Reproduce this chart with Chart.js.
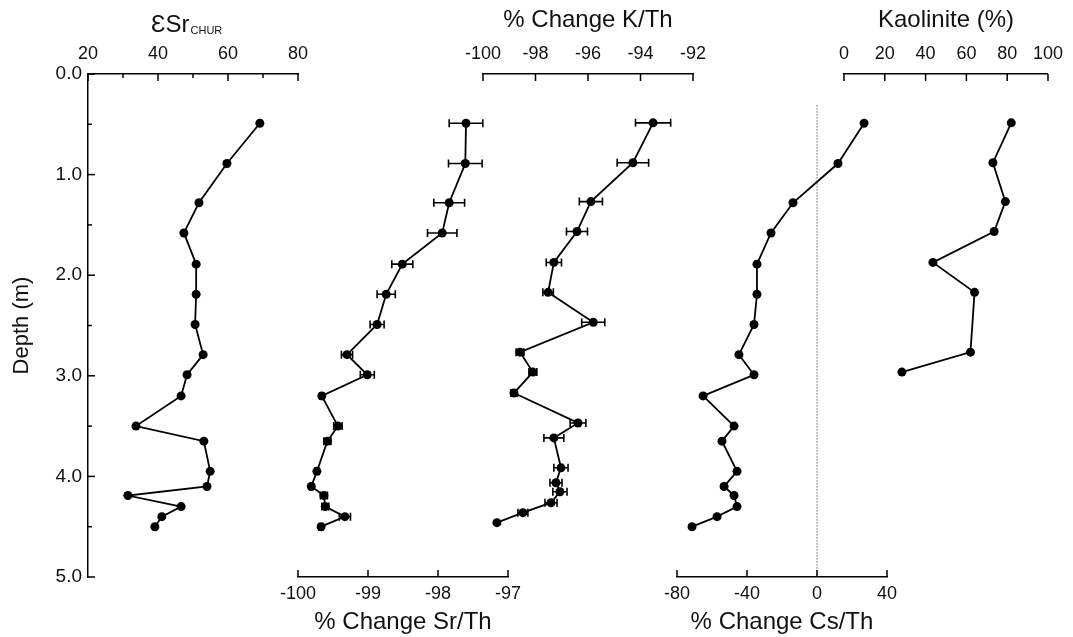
<!DOCTYPE html>
<html><head><meta charset="utf-8">
<script src="https://cdn.jsdelivr.net/npm/chart.js@4.4.1/dist/chart.umd.min.js"></script>
<style>
html,body{margin:0;padding:0;background:#fff;width:1073px;height:637px;overflow:hidden;position:relative;font-family:'Liberation Sans',Arial,sans-serif;}
canvas.p{position:absolute;top:0;}
#esrTitle{position:absolute;left:151px;top:12px;font-size:24px;line-height:24px;color:#111;white-space:nowrap;}
#esrTitle span{font-size:11px;position:relative;top:2px;margin-left:1px;}
</style></head><body>
<canvas id="c1" class="p" style="left:0px;width:328px;height:600px" width="328" height="600"></canvas>
<canvas id="c2" class="p" style="left:268px;width:270px;height:637px" width="270" height="637"></canvas>
<canvas id="c3" class="p" style="left:453px;width:270px;height:577px" width="270" height="577"></canvas>
<canvas id="c4" class="p" style="left:647px;width:270px;height:637px" width="270" height="637"></canvas>
<canvas id="c5" class="p" style="left:814px;width:258px;height:577px" width="258" height="577"></canvas>
<div id="esrTitle">ƐSr<span>CHUR</span></div>
<script>
// ---- data (depth in m) ----
const depth = [0.49, 0.89, 1.28, 1.58, 1.89, 2.19, 2.49, 2.79, 2.99, 3.2, 3.5, 3.65, 3.95, 4.1, 4.19, 4.3, 4.4, 4.5];
const eSrChur = [69.1, 59.7, 51.7, 47.4, 50.9, 50.9, 50.6, 52.9, 48.3, 46.6, 33.7, 53.1, 54.9, 54.0, 31.4, 46.6, 41.1, 39.1];
const srThChange = [-97.6, -97.61, -97.84, -97.94, -98.51, -98.74, -98.87, -99.3, -99.01, -99.66, -99.43, -99.58, -99.73, -99.81, -99.63, -99.61, -99.33, -99.67];
const srThErr = [0.24, 0.24, 0.22, 0.21, 0.15, 0.13, 0.1, 0.08, 0.1, 0.03, 0.06, 0.05, 0.03, 0.02, 0.05, 0.05, 0.08, 0.03];
const kThChange = [-93.52, -94.29, -95.89, -96.42, -97.3, -97.52, -95.8, -98.59, -98.1, -98.82, -96.38, -97.3, -97.03, -97.22, -97.07, -97.41, -98.48, -99.47];
const kThErr = [0.67, 0.6, 0.44, 0.4, 0.29, 0.2, 0.44, 0.15, 0.15, 0.12, 0.3, 0.38, 0.27, 0.23, 0.27, 0.23, 0.19, 0];
const csThChange = [26.9, 12.0, -13.7, -26.3, -34.3, -34.3, -36, -44.6, -36, -65.1, -47.4, -54.3, -45.7, -53.1, -47.4, -45.7, -57.1, -71.4];
const kaolDepth = [0.49, 0.89, 1.28, 1.58, 1.89, 2.19, 2.79, 2.99];
const kaolinite = [82, 73, 79.1, 73.6, 43.6, 64, 62, 28.4];
const zeroLineDepth = [0.31, 5];
const zeroLineX = [0, 0];
// axis ranges [min, max, step]
const depthAxis = [0, 5, 0.5];
const eSrAxis = [20, 80, 10];
const srThAxis = [-100, -97, 1];
const kThAxis = [-100, -92, 2];
const csThAxis = [-80, 40, 40];
const kaolAxis = [0, 100, 20];

const FONT = "'Liberation Sans', Arial, sans-serif";
Chart.defaults.font.family = FONT;
Chart.defaults.color = '#111';

function pts(xs, ys) { return xs.map((x, i) => ({x: x, y: ys[i]})); }

const inwardTicks = {
  id: 'inwardTicks',
  afterDraw(chart) {
    const ctx = chart.ctx, ca = chart.chartArea;
    ctx.save(); ctx.strokeStyle = '#000'; ctx.lineWidth = 1.5;
    Object.values(chart.scales).forEach(s => {
      if (!s.options.display) return;
      s.ticks.forEach(t => {
        const p = s.getPixelForValue(t.value);
        const len = (t.label === '' ? 4 : 7);
        ctx.beginPath();
        if (s.position === 'top') { ctx.moveTo(p, ca.top); ctx.lineTo(p, ca.top + len); }
        else if (s.position === 'bottom') { ctx.moveTo(p, ca.bottom); ctx.lineTo(p, ca.bottom - len); }
        else if (s.position === 'left') { ctx.moveTo(ca.left, p); ctx.lineTo(ca.left + len, p); }
        ctx.stroke();
      });
    });
    ctx.restore();
  }
};

function errorPlugin(values, errs, depths) {
  return {
    id: 'errorBars',
    beforeDatasetsDraw(chart) {
      const xs = chart.scales.x, ys = chart.scales.y, ctx = chart.ctx;
      ctx.save(); ctx.strokeStyle = '#000'; ctx.lineWidth = 1.6;
      values.forEach((v, i) => {
        const e = errs[i]; if (!e) return;
        const y = ys.getPixelForValue(depths[i]);
        const x1 = xs.getPixelForValue(v - e), x2 = xs.getPixelForValue(v + e);
        ctx.beginPath();
        ctx.moveTo(x1, y); ctx.lineTo(x2, y);
        ctx.moveTo(x1, y - 4); ctx.lineTo(x1, y + 4);
        ctx.moveTo(x2, y - 4); ctx.lineTo(x2, y + 4);
        ctx.stroke();
      });
      ctx.restore();
    }
  };
}

function series(xs, ys) {
  return {
    data: pts(xs, ys), showLine: true, borderColor: '#000', borderWidth: 1.8,
    pointRadius: 4.5, pointBackgroundColor: '#000', pointBorderWidth: 0, clip: false
  };
}

function makePanel(cfg) {
  const xPos = cfg.xPos;
  const axis = cfg.axis;
  const xScale = {
    type: 'linear', position: xPos, min: axis[0], max: axis[1],
    ticks: {
      stepSize: axis[2], autoSkip: false, maxRotation: 0, minRotation: 0,
      padding: xPos === 'top' ? 9 : 6, font: {size: 18},
      callback: cfg.xCallback || (v => String(v))
    },
    grid: {display: false, drawTicks: false},
    border: {display: true, color: '#000', width: 1.5},
    title: {display: !!cfg.xTitle, text: cfg.xTitle || '', font: {size: 24},
            padding: {top: 6, bottom: 0}},
    afterFit: s => { s.height = cfg.xHeight; }
  };
  const yScale = {
    type: 'linear', position: 'left', min: depthAxis[0], max: depthAxis[1], reverse: true,
    display: !!cfg.showY,
    ticks: {stepSize: depthAxis[2], autoSkip: false, padding: 6, font: {size: 19},
            callback: v => (Math.abs(v - Math.round(v)) < 1e-9 ? v.toFixed(1) : '')},
    grid: {display: false, drawTicks: false},
    border: {display: true, color: '#000', width: 1.5},
    title: {display: !!cfg.showY, text: 'Depth (m)', font: {size: 22}, padding: {top: 9, bottom: 0}}
  };
  if (cfg.showY) yScale.afterFit = s => { s.width = 88; };
  const plugins = [inwardTicks];
  if (cfg.err) plugins.push(errorPlugin(cfg.err[0], cfg.err[1], cfg.err[2]));
  return new Chart(document.getElementById(cfg.id), {
    type: 'scatter',
    data: {datasets: cfg.datasets},
    options: {
      responsive: false, animation: false, devicePixelRatio: 1,
      layout: {padding: cfg.padding},
      plugins: {legend: {display: false}, tooltip: {enabled: false}},
      scales: {x: xScale, y: yScale}
    },
    plugins: plugins
  });
}

makePanel({
  id: 'c1', xPos: 'top', axis: eSrAxis, xHeight: 74, showY: true,
  xCallback: v => (v % 20 === 0 ? String(v) : ''),
  padding: {left: 0, right: 30, top: 0, bottom: 23},
  datasets: [series(eSrChur, depth)]
});
makePanel({
  id: 'c2', xPos: 'bottom', axis: srThAxis, xHeight: 60, xTitle: '% Change Sr/Th',
  padding: {left: 30, right: 30, top: 74, bottom: 0},
  datasets: [series(srThChange, depth)],
  err: [srThChange, srThErr, depth]
});
makePanel({
  id: 'c3', xPos: 'top', axis: kThAxis, xHeight: 74, xTitle: '% Change K/Th',
  padding: {left: 30, right: 30, top: 0, bottom: 0},
  datasets: [series(kThChange, depth)],
  err: [kThChange, kThErr, depth]
});
makePanel({
  id: 'c4', xPos: 'bottom', axis: csThAxis, xHeight: 60, xTitle: '% Change Cs/Th',
  padding: {left: 30, right: 30, top: 74, bottom: 0},
  datasets: [
    {data: pts(zeroLineX, zeroLineDepth), showLine: true, borderColor: '#666', borderWidth: 1,
     borderDash: [1.5, 1.5], pointRadius: 0, clip: false},
    series(csThChange, depth)
  ]
});
makePanel({
  id: 'c5', xPos: 'top', axis: kaolAxis, xHeight: 74, xTitle: 'Kaolinite (%)',
  padding: {left: 30, right: 17, top: 0, bottom: 0},
  datasets: [series(kaolinite, kaolDepth)]
});
</script>
</body></html>
